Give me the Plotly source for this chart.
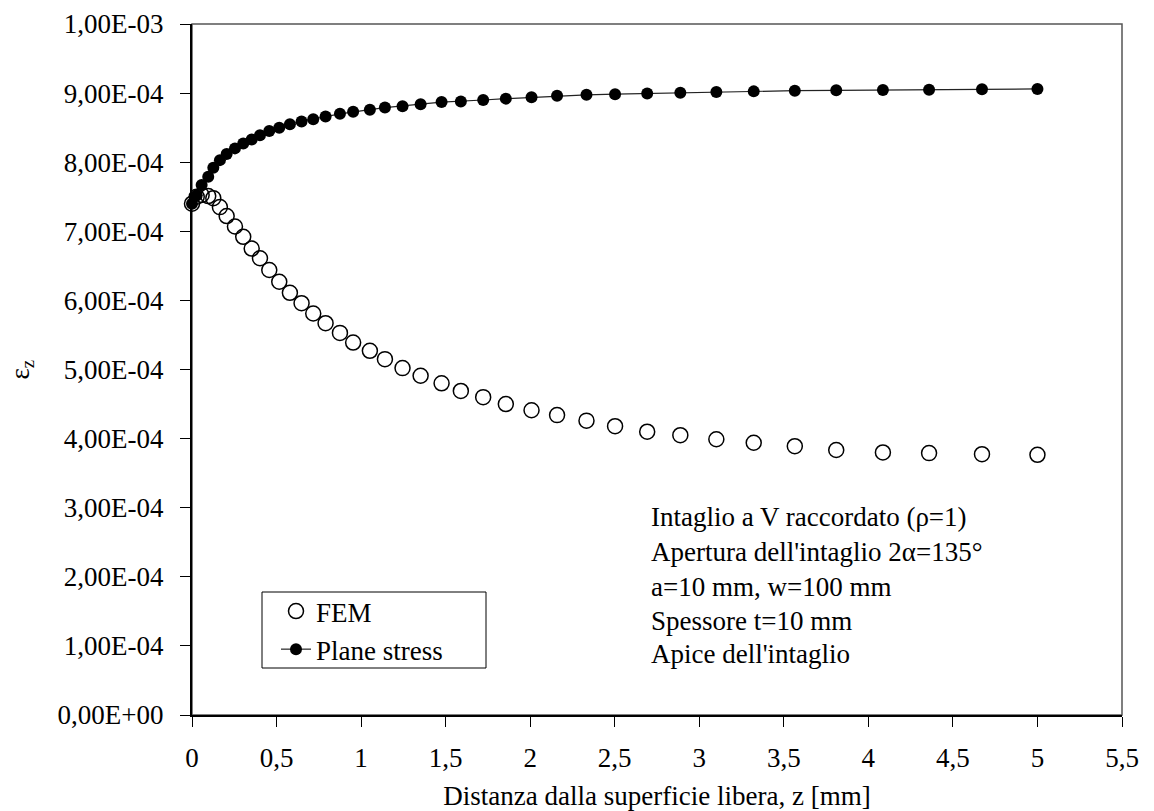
import plotly.graph_objects as go

# Distance from free surface z [mm]
z_mm = [0, 0.028, 0.057, 0.096, 0.126, 0.165, 0.205, 0.254, 0.303, 0.353, 0.402,
        0.457, 0.516, 0.579, 0.648, 0.717, 0.790, 0.875, 0.953, 1.052, 1.141,
        1.245, 1.352, 1.476, 1.590, 1.722, 1.856, 2.008, 2.159, 2.333, 2.502,
        2.692, 2.888, 3.101, 3.322, 3.565, 3.810, 4.086, 4.359, 4.672, 5.0]

fem = [7.40e-4, 7.50e-4, 7.525e-4, 7.51e-4, 7.48e-4, 7.35e-4, 7.22e-4, 7.07e-4,
       6.92e-4, 6.75e-4, 6.61e-4, 6.44e-4, 6.27e-4, 6.11e-4, 5.96e-4, 5.81e-4,
       5.67e-4, 5.53e-4, 5.39e-4, 5.27e-4, 5.15e-4, 5.02e-4, 4.91e-4, 4.80e-4,
       4.69e-4, 4.60e-4, 4.50e-4, 4.41e-4, 4.34e-4, 4.26e-4, 4.18e-4, 4.10e-4,
       4.05e-4, 3.99e-4, 3.94e-4, 3.89e-4, 3.835e-4, 3.80e-4, 3.79e-4, 3.775e-4,
       3.765e-4]

plane_stress = [7.40e-4, 7.52e-4, 7.67e-4, 7.79e-4, 7.92e-4, 8.03e-4, 8.12e-4,
                8.20e-4, 8.27e-4, 8.33e-4, 8.39e-4, 8.45e-4, 8.50e-4, 8.55e-4,
                8.59e-4, 8.62e-4, 8.66e-4, 8.70e-4, 8.73e-4, 8.76e-4, 8.79e-4,
                8.81e-4, 8.84e-4, 8.87e-4, 8.88e-4, 8.90e-4, 8.92e-4, 8.94e-4,
                8.96e-4, 8.975e-4, 8.985e-4, 8.995e-4, 9.005e-4, 9.015e-4,
                9.025e-4, 9.035e-4, 9.04e-4, 9.045e-4, 9.05e-4, 9.055e-4, 9.06e-4]

x_tickvals = [0, 0.5, 1, 1.5, 2, 2.5, 3, 3.5, 4, 4.5, 5, 5.5]
x_ticktext = ["0", "0,5", "1", "1,5", "2", "2,5", "3", "3,5", "4", "4,5", "5", "5,5"]
y_tickvals = [0, 1e-4, 2e-4, 3e-4, 4e-4, 5e-4, 6e-4, 7e-4, 8e-4, 9e-4, 1e-3]
y_ticktext = ["0,00E+00", "1,00E-04", "2,00E-04", "3,00E-04", "4,00E-04",
              "5,00E-04", "6,00E-04", "7,00E-04", "8,00E-04", "9,00E-04", "1,00E-03"]

info_lines = ["Intaglio a V raccordato (ρ=1)",
              "Apertura dell'intaglio 2α=135°",
              "a=10 mm, w=100 mm",
              "Spessore t=10 mm",
              "Apice dell'intaglio"]

FONT = "Liberation Serif, Times New Roman, serif"
FS = 27

# page offset of 8 px (default body margin) -> plot area spans x 192..1122, y 24..715
OFF = 8
L, T, PW, PH = 192, 24, 930, 691


def px_x(p):
    return (p - L) / PW


def px_y(p):
    return (T + PH - p) / PH


fig = go.Figure()
fig.add_trace(go.Scatter(
    x=z_mm, y=fem, mode="markers", name="FEM", legendgroup="a",
    marker=dict(symbol="circle-open", size=15, color="black", line=dict(width=1.5, color="black")),
    cliponaxis=False))
fig.add_trace(go.Scatter(
    x=z_mm, y=plane_stress, mode="lines+markers", name="Plane stress", legendgroup="b",
    line=dict(color="#222222", width=1.2),
    marker=dict(symbol="circle", size=12, color="black"),
    cliponaxis=False))

line_y = [517, 552, 587, 621, 654]
annotations = []
for txt, py in zip(info_lines, line_y):
    annotations.append(dict(
        text=txt, xref="paper", yref="paper",
        x=px_x(649), y=px_y(py),
        xanchor="left", yanchor="middle", showarrow=False,
        font=dict(family=FONT, size=FS, color="black")))
annotations.append(dict(
    text="ε<sub>z</sub>", xref="paper", yref="paper",
    x=px_x(21), y=0.5, xanchor="center", yanchor="middle",
    textangle=-90, showarrow=False,
    font=dict(family=FONT, size=FS, color="black")))

shapes = [
    # plot-area frame
    dict(type="rect", xref="paper", yref="paper", x0=0, y0=0, x1=1, y1=1,
         line=dict(color="#555555", width=1.5), layer="below"),
    # legend box
    dict(type="rect", xref="paper", yref="paper",
         x0=px_x(262), x1=px_x(486), y0=px_y(668), y1=px_y(592),
         line=dict(color="black", width=1), fillcolor="white", layer="above"),
]

fig.update_layout(
    width=1154 - OFF, height=811 - OFF,
    margin=dict(l=L - OFF, r=1154 - OFF - (L - OFF) - PW, t=T - OFF,
                b=811 - OFF - (T - OFF) - PH, autoexpand=False),
    paper_bgcolor="white", plot_bgcolor="white",
    font=dict(family=FONT, size=FS, color="black"),
    showlegend=True,
    legend=dict(x=px_x(276), y=px_y(587), xanchor="left", yanchor="top",
                bgcolor="rgba(0,0,0,0)", borderwidth=0,
                font=dict(family=FONT, size=FS, color="black"),
                traceorder="grouped", tracegroupgap=0),
    annotations=annotations,
    shapes=shapes,
    xaxis=dict(range=[0, 5.5], tickvals=x_tickvals, ticktext=x_ticktext,
               showgrid=False, zeroline=False, showline=True, linecolor="black", linewidth=2,
               ticks="outside", ticklen=10, tickwidth=1, tickcolor="black",
               ticklabelstandoff=8, automargin=False,
               title=dict(text="Distanza dalla superficie libera, z [mm]",
                          font=dict(family=FONT, size=FS), standoff=21)),
    yaxis=dict(range=[0, 1e-3], tickvals=y_tickvals, ticktext=y_ticktext,
               showgrid=False, zeroline=False, showline=True, linecolor="black", linewidth=2,
               ticks="outside", ticklen=10, tickwidth=1, tickcolor="black",
               ticklabelstandoff=11, automargin=False),
)

fig.write_html("out.html")
